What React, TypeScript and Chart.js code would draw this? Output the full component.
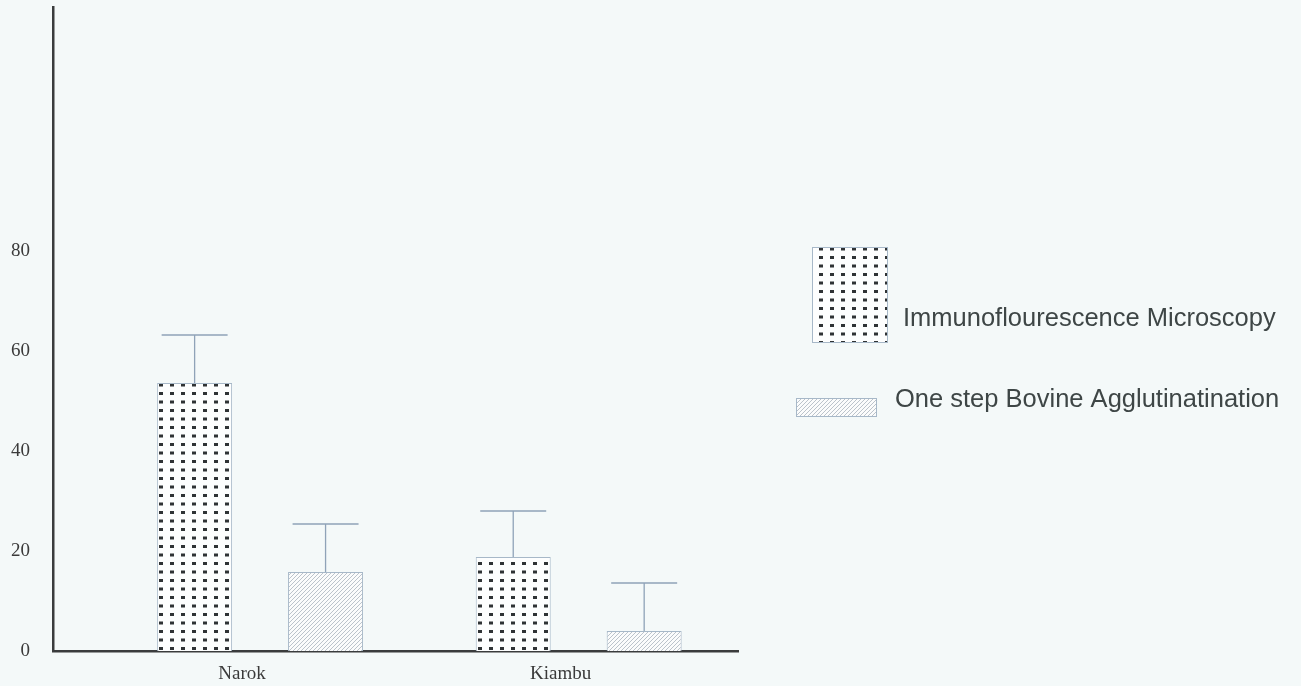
import { useEffect, useRef } from 'react';
import { Chart, registerables } from 'chart.js';

Chart.register(...registerables);

// Sampling districts and the two diagnostic methods compared
const categories = ['Narok', 'Kiambu'];
const seriesLabels = ['Immunoflourescence Microscopy', 'One step Bovine Agglutinatination'];
const immunofluorescence = [53.6, 18.8];
const immunofluorescenceError = [9.6, 9.2];
const agglutination = [15.8, 4.0];
const agglutinationError = [9.6, 9.6];
const yTickValues = [0, 20, 40, 60, 80];

const errorSeries = [immunofluorescenceError, agglutinationError];

const PAGE_BG = '#f4f9f9';
const AXIS_COLOR = '#3a3c3d';
const BAR_EDGE = '#a7b8c8';
const WHISKER = '#8fa3b8';

function makeDotPattern(ctx: CanvasRenderingContext2D): CanvasPattern | string {
  const tile = document.createElement('canvas');
  tile.width = 11;
  tile.height = 17;
  const t = tile.getContext('2d');
  if (!t) return '#ffffff';
  t.fillStyle = '#fdfefe';
  t.fillRect(0, 0, 11, 17);
  t.fillStyle = '#2f3335';
  t.fillRect(5, 1, 4, 3);
  t.fillRect(5, 9.5, 4, 3);
  return ctx.createPattern(tile, 'repeat') || '#ffffff';
}

function makeHatchPattern(ctx: CanvasRenderingContext2D): CanvasPattern | string {
  const tile = document.createElement('canvas');
  tile.width = 8;
  tile.height = 8;
  const t = tile.getContext('2d');
  if (!t) return '#eeeeee';
  t.fillStyle = '#fbfcfc';
  t.fillRect(0, 0, 8, 8);
  t.strokeStyle = '#b3bcc5';
  t.lineWidth = 0.9;
  t.beginPath();
  for (let k = -2; k <= 2; k++) {
    t.moveTo(k * 4, 8);
    t.lineTo(k * 4 + 8, 0);
  }
  t.stroke();
  return ctx.createPattern(tile, 'repeat') || '#eeeeee';
}

// Paints the paper-coloured page behind everything
const pageBackground = {
  id: 'pageBackground',
  beforeDraw(chart: any) {
    const { ctx, width, height } = chart;
    ctx.save();
    ctx.fillStyle = PAGE_BG;
    ctx.fillRect(0, 0, width, height);
    ctx.restore();
  },
};

// Upper whiskers (value + error) drawn over each bar
const errorBars = {
  id: 'errorBars',
  afterDatasetsDraw(chart: any) {
    const ctx = chart.ctx;
    const yScale = chart.scales.y;
    ctx.save();
    ctx.strokeStyle = WHISKER;
    ctx.lineWidth = 1.3;
    chart.data.datasets.forEach((ds: any, di: number) => {
      const meta = chart.getDatasetMeta(di);
      meta.data.forEach((bar: any, i: number) => {
        const value = ds.data[i].y;
        const err = errorSeries[di][i];
        const { x, y, width } = bar.getProps(['x', 'y', 'width'], true);
        const top = yScale.getPixelForValue(value + err);
        const half = width * 0.44;
        ctx.beginPath();
        ctx.moveTo(x, y);
        ctx.lineTo(x, top);
        ctx.moveTo(x - half, top);
        ctx.lineTo(x + half, top);
        ctx.stroke();
      });
    });
    ctx.restore();
  },
};

// Legend on the right: a tall dotted swatch and a slim hatched swatch
const sideLegend = {
  id: 'sideLegend',
  afterDraw(chart: any) {
    const ctx = chart.ctx;
    const ds = chart.data.datasets;
    ctx.save();
    // first series swatch
    ctx.fillStyle = ds[0].backgroundColor;
    ctx.fillRect(812, 247, 75, 95);
    ctx.strokeStyle = BAR_EDGE;
    ctx.lineWidth = 1;
    ctx.strokeRect(812.5, 247.5, 75, 95);
    // second series swatch
    ctx.fillStyle = ds[1].backgroundColor;
    ctx.fillRect(796, 398, 80, 18);
    ctx.strokeRect(796.5, 398.5, 80, 18);

    ctx.fillStyle = '#3e4646';
    ctx.font = '25.5px "Liberation Sans", Arial, sans-serif';
    ctx.textAlign = 'left';
    ctx.textBaseline = 'alphabetic';
    ctx.fillText(ds[0].label, 903, 326);
    ctx.fillText(ds[1].label, 895, 407);
    ctx.restore();
  },
};

export default function App() {
  const canvasRef = useRef<HTMLCanvasElement | null>(null);

  useEffect(() => {
    const canvas = canvasRef.current;
    if (!canvas) return;
    const ctx = canvas.getContext('2d');
    if (!ctx) return;

    const dots = makeDotPattern(ctx);
    const hatch = makeHatchPattern(ctx);

    const chart = new Chart(ctx, {
      type: 'bar',
      data: {
        datasets: [
          {
            label: seriesLabels[0],
            data: immunofluorescence.map((v, i) => ({ x: i, y: v })),
            backgroundColor: dots as any,
            borderColor: BAR_EDGE,
            borderWidth: 1,
          },
          {
            label: seriesLabels[1],
            data: agglutination.map((v, i) => ({ x: i, y: v })),
            backgroundColor: hatch as any,
            borderColor: BAR_EDGE,
            borderWidth: 1,
          },
        ],
      },
      options: {
        responsive: false,
        animation: false,
        events: [],
        categoryPercentage: 0.822,
        barPercentage: 0.5725,
        layout: { padding: { top: 7, right: 563, left: 0, bottom: 0 } },
        plugins: {
          legend: { display: false },
          tooltip: { enabled: false },
        },
        scales: {
          x: {
            type: 'linear',
            min: -0.65,
            max: 1.5,
            offset: false,
            grid: { display: false, drawTicks: false },
            border: { display: true, color: AXIS_COLOR, width: 2.5 },
            afterBuildTicks: (scale: any) => {
              scale.ticks = categories.map((_, i) => ({ value: i }));
            },
            afterFit: (scale: any) => {
              scale.height = 35;
              scale.paddingLeft = 0;
              scale.paddingRight = 0;
            },
            ticks: {
              callback: (_v: any, i: number) => categories[i] ?? '',
              font: { family: '"Liberation Serif", "Times New Roman", serif', size: 19 },
              color: '#3a3a3a',
              padding: 12,
              labelOffset: -18,
              maxRotation: 0,
              autoSkip: false,
            },
          },
          y: {
            type: 'linear',
            min: 0,
            max: 128.8,
            grid: { display: false, drawTicks: false },
            border: { display: true, color: AXIS_COLOR, width: 2.5 },
            afterBuildTicks: (scale: any) => {
              scale.ticks = yTickValues.map((v) => ({ value: v }));
            },
            afterFit: (scale: any) => {
              scale.width = 53;
              scale.paddingTop = 0;
              scale.paddingBottom = 0;
            },
            ticks: {
              font: { family: '"Liberation Serif", "Times New Roman", serif', size: 19 },
              color: '#3a3a3a',
              padding: 23,
              autoSkip: false,
            },
          },
        },
      },
      plugins: [pageBackground, errorBars, sideLegend],
    } as any);

    return () => chart.destroy();
  }, []);

  return (
    <div style={{ position: 'absolute', left: 0, top: 0, width: 1301, height: 686, background: PAGE_BG }}>
      <canvas ref={canvasRef} width={1301} height={686} style={{ display: 'block' }} />
    </div>
  );
}
